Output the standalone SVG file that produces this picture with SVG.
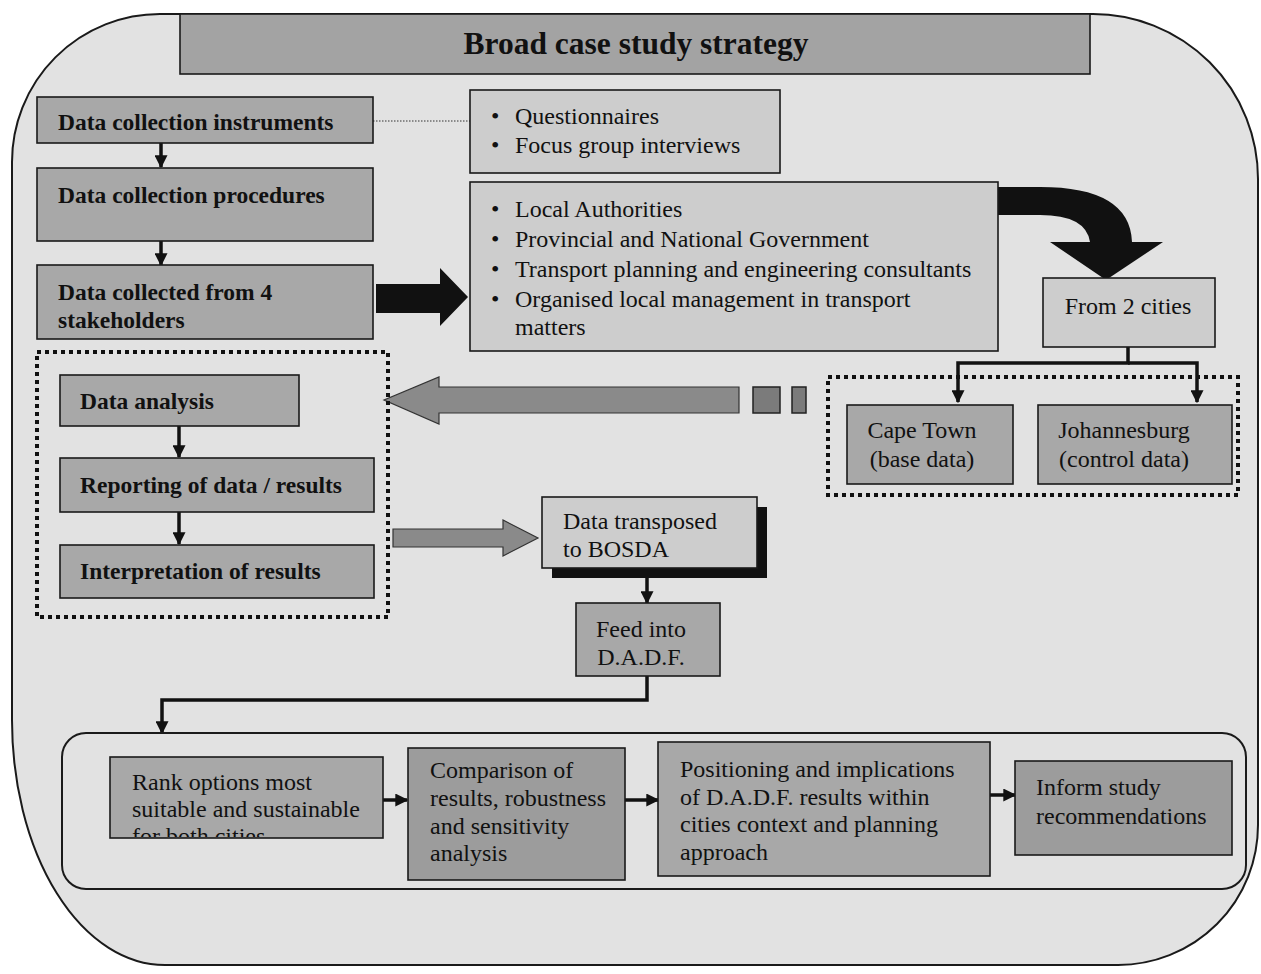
<svg xmlns="http://www.w3.org/2000/svg" width="1261" height="974" viewBox="0 0 1261 974">
  <style>
    .t { font-family: "Liberation Serif", "Times New Roman", serif; fill: #111; }
    .b { font-weight: bold; font-size: 23.5px; }
    .r { font-size: 24px; }
    .mid { fill: #a8a8a8; stroke: #1a1a1a; stroke-width: 1.6; }
    .dark { fill: #9c9c9c; stroke: #1a1a1a; stroke-width: 1.6; }
    .light { fill: #cdcdcd; stroke: #1a1a1a; stroke-width: 1.6; }
    .conn { fill: none; stroke: #111; stroke-width: 3.5; }
    .dots { fill: none; stroke: #111; stroke-width: 4; stroke-dasharray: 4 4; }
  </style>
  <defs>
    <marker id="ah" viewBox="0 0 10 10" refX="9" refY="5" markerWidth="13" markerHeight="13" markerUnits="userSpaceOnUse" orient="auto">
      <path d="M0,0 L10,5 L0,10 Z" fill="#111"/>
    </marker>
    <clipPath id="rankClip"><rect x="111" y="758" width="271" height="79"/></clipPath>
  </defs>

  <rect width="1261" height="974" fill="#ffffff"/>

  <!-- outer frame -->
  <path d="M160,14 H1093 A165,165 0 0 1 1258,179 V825 A140,140 0 0 1 1118,965 H165 A153,245 0 0 1 12,720 V162 A148,148 0 0 1 160,14 Z" fill="#e2e2e2" stroke="#1a1a1a" stroke-width="2"/>

  <!-- title -->
  <g id="title">
    <rect x="180" y="14" width="910" height="60" fill="#a3a3a3" stroke="#1a1a1a" stroke-width="1.6"/>
    <text class="t" x="636" y="54" text-anchor="middle" font-weight="bold" font-size="31.5">Broad case study strategy</text>
  </g>

  <!-- connectors -->
  <g id="connectors">
    <line x1="373" y1="121" x2="470" y2="121" stroke="#333" stroke-width="1" stroke-dasharray="1.5 1.5"/>
    <line class="conn" x1="161" y1="143" x2="161" y2="167" marker-end="url(#ah)"/>
    <line class="conn" x1="161" y1="241" x2="161" y2="265" marker-end="url(#ah)"/>
    <!-- stakeholders arrow -->
    <path d="M376,284 H440 V268 L468,297 L440,326 V313 H376 Z" fill="#111"/>
    <!-- curved arrow to cities -->
    <path d="M998,187 H1040 Q1130,187 1132,242 H1163 L1106,280 L1050,242 H1090 Q1086,215 1040,215 H998 Z" fill="#111"/>
    <!-- split to the two cities -->
    <path class="conn" d="M1128,347 V363 H958 V402" marker-end="url(#ah)"/>
    <path class="conn" d="M1128,363 H1197 V402" marker-end="url(#ah)"/>
    <!-- grey return arrow -->
    <path d="M739,387 H439 V377 L384,400 L439,424 V413 H739 Z" fill="#8a8a8a" stroke="#333" stroke-width="1.2"/>
    <rect x="753" y="387" width="27" height="26" fill="#7b7b7b" stroke="#222" stroke-width="1.5"/>
    <rect x="792" y="387" width="14" height="26" fill="#7b7b7b" stroke="#222" stroke-width="1.5"/>
    <!-- analysis chain -->
    <line class="conn" x1="179" y1="426" x2="179" y2="457" marker-end="url(#ah)"/>
    <line class="conn" x1="179" y1="512" x2="179" y2="544" marker-end="url(#ah)"/>
    <!-- grey arrow to BOSDA -->
    <path d="M393,529 H503 V520 L538,538 L503,556 V547 H393 Z" fill="#8a8a8a" stroke="#333" stroke-width="1.2"/>
    <line class="conn" x1="647" y1="578" x2="647" y2="603" marker-end="url(#ah)"/>
    <path class="conn" d="M647,676 V700 H162 V733" marker-end="url(#ah)"/>
    <!-- bottom sequence -->
    <line class="conn" x1="383" y1="800" x2="407" y2="800" marker-end="url(#ah)"/>
    <line class="conn" x1="625" y1="800" x2="658" y2="800" marker-end="url(#ah)"/>
    <line class="conn" x1="990" y1="795" x2="1015" y2="795" marker-end="url(#ah)"/>
  </g>

  <!-- top left column -->
  <g id="instruments">
    <rect class="mid" x="37" y="97" width="336" height="46"/>
    <text class="t b" x="58" y="130">Data collection instruments</text>
  </g>
  <g id="procedures">
    <rect class="mid" x="37" y="168" width="336" height="73"/>
    <text class="t b" x="58" y="203">Data collection procedures</text>
  </g>
  <g id="collected">
    <rect class="mid" x="37" y="265" width="336" height="74"/>
    <text class="t b" x="58" y="300">Data collected from 4</text>
    <text class="t b" x="58" y="328">stakeholders</text>
  </g>

  <g id="methods">
    <rect class="light" x="470" y="90" width="310" height="83"/>
    <text class="t r" x="491" y="124">•</text>
    <text class="t r" x="515" y="124">Questionnaires</text>
    <text class="t r" x="491" y="153">•</text>
    <text class="t r" x="515" y="153">Focus group interviews</text>
  </g>

  <g id="stakeholders">
    <rect class="light" x="470" y="182" width="528" height="169"/>
    <text class="t r" x="491" y="217">•</text>
    <text class="t r" x="515" y="217">Local Authorities</text>
    <text class="t r" x="491" y="247">•</text>
    <text class="t r" x="515" y="247">Provincial and National Government</text>
    <text class="t r" x="491" y="277">•</text>
    <text class="t r" x="515" y="277">Transport planning and engineering consultants</text>
    <text class="t r" x="491" y="307">•</text>
    <text class="t r" x="515" y="307">Organised local management in transport</text>
    <text class="t r" x="515" y="335">matters</text>
  </g>

  <g id="two-cities">
    <rect class="light" x="1043" y="278" width="172" height="69"/>
    <text class="t r" x="1128" y="314" text-anchor="middle">From 2 cities</text>
  </g>

  <g id="cities">
    <rect class="dots" x="828" y="377" width="410" height="118" stroke-width="3" stroke-dasharray="3 3"/>
    <g id="cape-town">
      <rect class="mid" x="847" y="405" width="166" height="79"/>
      <text class="t r" x="922" y="438" text-anchor="middle">Cape Town</text>
      <text class="t r" x="922" y="467" text-anchor="middle">(base data)</text>
    </g>
    <g id="johannesburg">
      <rect class="mid" x="1038" y="405" width="194" height="79"/>
      <text class="t r" x="1124" y="438" text-anchor="middle">Johannesburg</text>
      <text class="t r" x="1124" y="467" text-anchor="middle">(control data)</text>
    </g>
  </g>

  <g id="analysis-block">
    <rect class="dots" x="37" y="352" width="351" height="265"/>
    <g id="analysis">
      <rect class="mid" x="60" y="375" width="239" height="51"/>
      <text class="t b" x="80" y="409">Data analysis</text>
    </g>
    <g id="reporting">
      <rect class="mid" x="60" y="458" width="314" height="54"/>
      <text class="t b" x="80" y="493">Reporting of data / results</text>
    </g>
    <g id="interpretation">
      <rect class="mid" x="60" y="545" width="314" height="53"/>
      <text class="t b" x="80" y="579">Interpretation of results</text>
    </g>
  </g>

  <g id="bosda">
    <rect x="552" y="507" width="215" height="71" fill="#111"/>
    <rect class="light" x="542" y="497" width="215" height="71" fill="#bcbcbc"/>
    <text class="t r" x="563" y="529">Data transposed</text>
    <text class="t r" x="563" y="557">to BOSDA</text>
  </g>

  <g id="dadf">
    <rect class="mid" x="576" y="603" width="144" height="73" fill="#b2b2b2"/>
    <text class="t r" x="641" y="637" text-anchor="middle">Feed into</text>
    <text class="t r" x="641" y="665" text-anchor="middle">D.A.D.F.</text>
  </g>

  <g id="outcomes">
    <rect x="62" y="733" width="1184" height="156" rx="24" fill="none" stroke="#1a1a1a" stroke-width="2"/>
    <g id="rank">
      <rect class="mid" x="110" y="757" width="273" height="81"/>
      <g clip-path="url(#rankClip)">
        <text class="t r" x="132" y="790">Rank options most</text>
        <text class="t r" x="132" y="817">suitable and sustainable</text>
        <text class="t r" x="132" y="844">for both cities</text>
      </g>
    </g>
    <g id="comparison">
      <rect class="dark" x="408" y="748" width="217" height="132"/>
      <text class="t r" x="430" y="778">Comparison of</text>
      <text class="t r" x="430" y="806">results, robustness</text>
      <text class="t r" x="430" y="834">and sensitivity</text>
      <text class="t r" x="430" y="861">analysis</text>
    </g>
    <g id="positioning">
      <rect class="mid" x="658" y="742" width="332" height="134" stroke-width="3"/>
      <text class="t r" x="680" y="777">Positioning and implications</text>
      <text class="t r" x="680" y="805">of D.A.D.F. results within</text>
      <text class="t r" x="680" y="832">cities context and planning</text>
      <text class="t r" x="680" y="860">approach</text>
    </g>
    <g id="recommendations">
      <rect class="dark" x="1015" y="761" width="217" height="94"/>
      <text class="t r" x="1036" y="795">Inform study</text>
      <text class="t r" x="1036" y="824">recommendations</text>
    </g>
  </g>
</svg>
